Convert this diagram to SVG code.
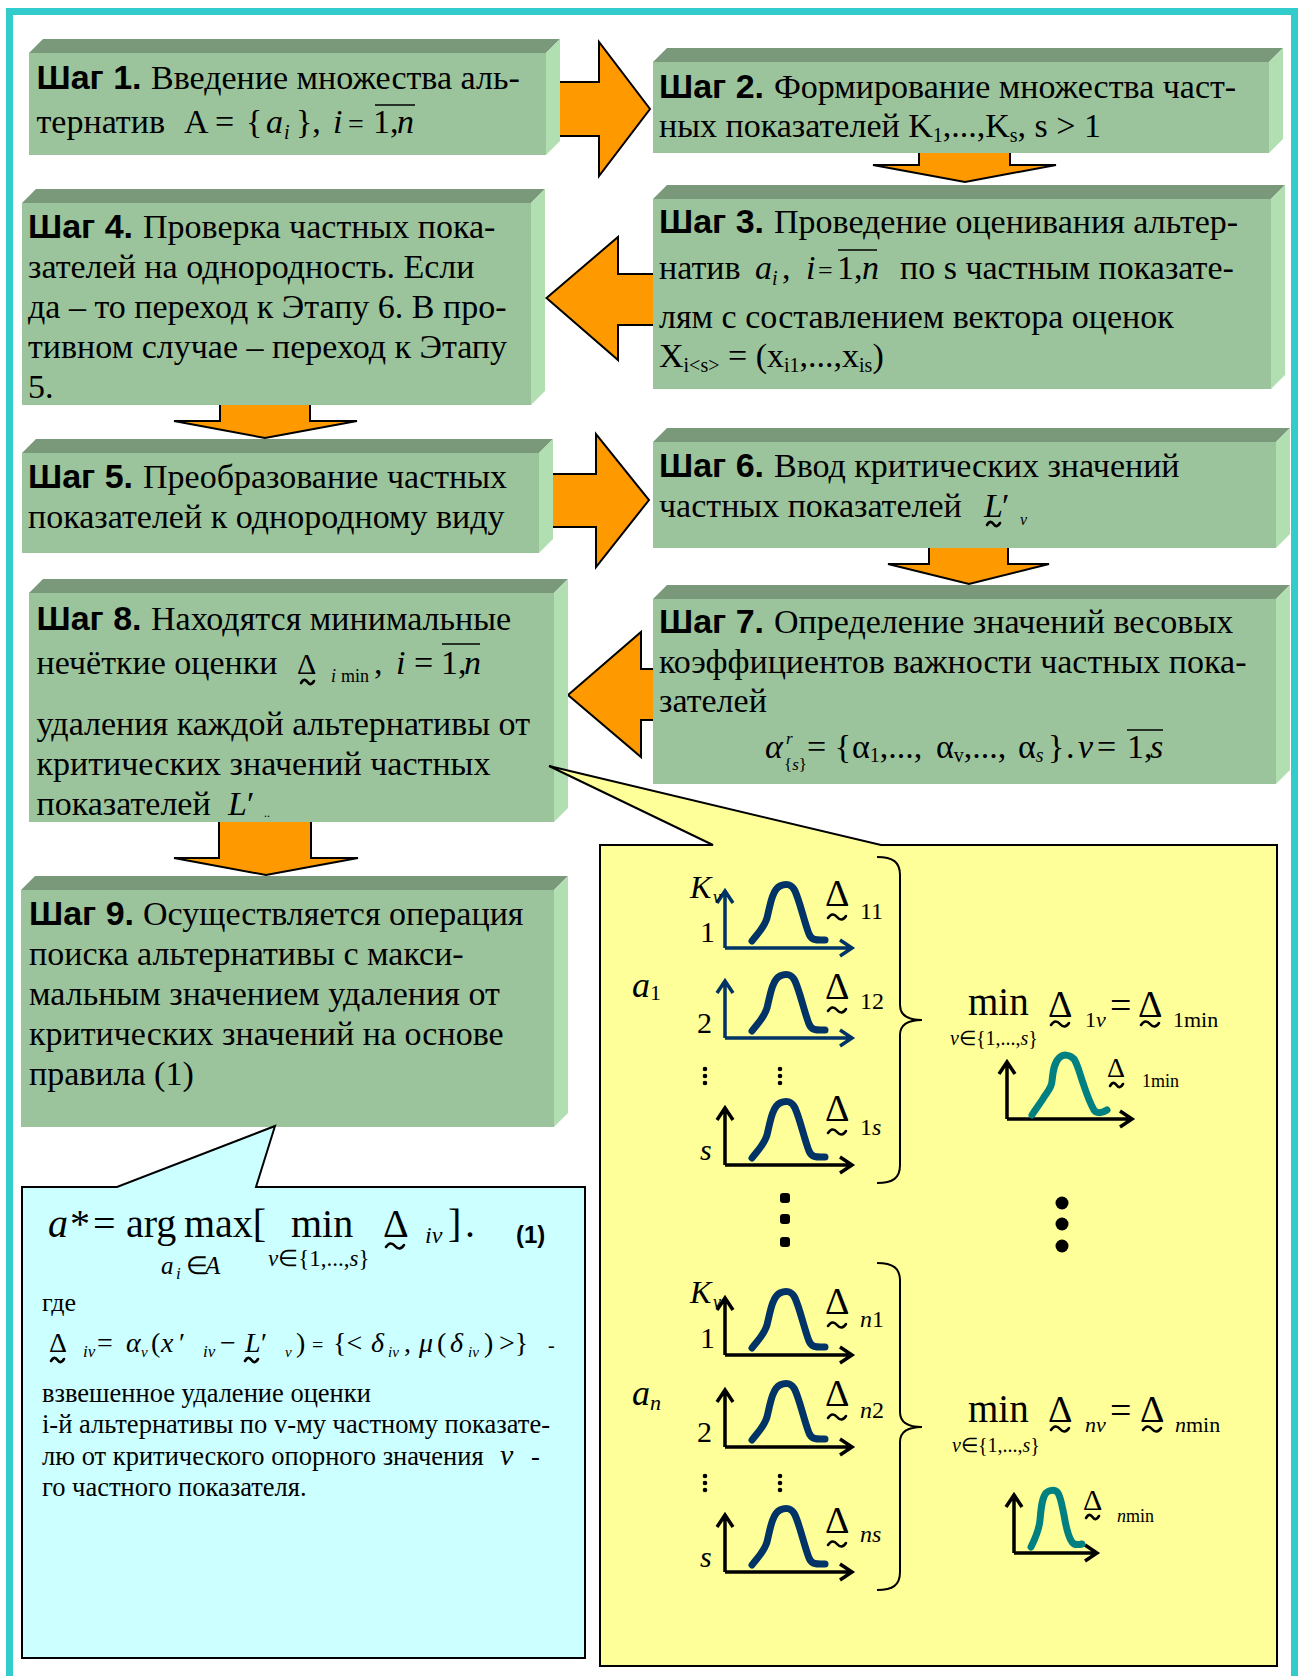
<svg xmlns="http://www.w3.org/2000/svg" xmlns:xlink="http://www.w3.org/1999/xlink" width="1298" height="1676" viewBox="0 0 1298 1676">
<style>
.s{font-family:"Liberation Serif","Times New Roman",serif;fill:#000}
.a{font-family:"Liberation Sans",Arial,sans-serif;font-weight:bold}
.i{font-style:italic}
.tw{fill:none;stroke:#000;stroke-width:2.6;stroke-linecap:round}
.front{fill:#9CC49C}
.top{fill:#7A987A}
.side{fill:#B2DFB2}
.arrow{fill:#FF9900;stroke:#000;stroke-width:2;stroke-linejoin:miter}
.ax{fill:none;stroke-width:3.5}
.bump{fill:none;stroke:#003366;stroke-width:7;stroke-linecap:round;stroke-linejoin:round}
.tbump{fill:none;stroke:#008080;stroke-width:7;stroke-linecap:round;stroke-linejoin:round}
.ol{stroke:#000;stroke-width:1.5}
</style>
<defs>
<path id="bump" d="M27,-7 C33,-15 39,-20 42,-30 C45,-42 47,-58 55,-62 C61,-65 67,-64 70,-57 C75,-46 79,-27 84,-14 C87,-7 92,-8 100,-8"/>
<path id="axes" d="M0,0 V-57 M-8,-45 L0,-57 L8,-45 M0,0 H127 M115,-8 L127,0 L115,8"/>
<path id="tilde" d="M0,1 C3,-3.5 6,-3.5 9,0 C12,3.5 15,3.5 18,-1"/>
<path id="tildes" d="M0,1 C2.2,-3 4.4,-3 6.5,0 C8.6,3 10.8,3 13,-1"/>
</defs>
<rect width="1298" height="1676" fill="#fff"/>
<rect x="9.5" y="11.5" width="1285" height="1700" fill="none" stroke="#33CCCC" stroke-width="7"/>

<g id="connectors">
<polygon class="arrow" points="546,82 599,82 599,42 650,109 599,176 599,136 546,136"/>
<polygon class="arrow" points="919,150 1010,150 1010,165 1056,165 965,182 873,165 919,165"/>
<polygon class="arrow" points="546.5,298 618,237 618,274 656,274 656,325 618,325 618,360"/>
<polygon class="arrow" points="220,400 310,400 310,421 357,421 265,438 174,421 220,421"/>
<polygon class="arrow" points="539,474 596,474 596,434 649,500 596,567 596,527 539,527"/>
<polygon class="arrow" points="929,545 1008,545 1008,564 1049,564 969,584 888,564 929,564"/>
<polygon class="arrow" points="568,695 641,632 641,669 656,669 656,720 641,720 641,757"/>
<polygon class="arrow" points="219,818 311,818 311,858 358,858 266,875 174,858 219,858"/>
</g>

<g id="step1">
<polygon class="top" points="29,53 43,39 560,39 546,53"/>
<polygon class="side" points="546,53 560,39 560,141 546,155"/>
<rect class="front" x="29" y="53" width="517" height="102"/>
<text class="s" font-size="34" y="89"><tspan x="36.5" class="a">Шаг 1.</tspan><tspan x="151">Введение множества аль-</tspan></text>
<text class="s" font-size="34" y="133"><tspan x="36.5">тернатив</tspan><tspan x="184">A</tspan><tspan x="215">=</tspan><tspan x="246">{</tspan><tspan x="266" class="i">a</tspan><tspan x="284" y="139" font-size="20" class="i">i</tspan><tspan x="296" y="133">},</tspan><tspan x="333" class="i">i</tspan><tspan x="348" font-size="28">=</tspan><tspan x="373">1,</tspan><tspan x="397" class="i">n</tspan></text>
<line class="ol" x1="375" y1="105" x2="415" y2="105"/>
</g>

<g id="step2">
<polygon class="top" points="653,62 667,48 1283,48 1269,62"/>
<polygon class="side" points="1269,62 1283,48 1283,139 1269,153"/>
<rect class="front" x="653" y="62" width="616" height="91"/>
<text class="s" font-size="34" y="98"><tspan x="659" class="a">Шаг 2.</tspan><tspan x="774">Формирование множества част-</tspan></text>
<text class="s" font-size="34" y="137"><tspan x="659">ных показателей K</tspan><tspan font-size="20" dy="5">1</tspan><tspan dy="-5">,...,K</tspan><tspan font-size="20" dy="5">s</tspan><tspan dy="-5">, s &gt; 1</tspan></text>
</g>

<g id="step3">
<polygon class="top" points="653,199 667,185 1285,185 1271,199"/>
<polygon class="side" points="1271,199 1285,185 1285,375 1271,389"/>
<rect class="front" x="653" y="199" width="618" height="190"/>
<text class="s" font-size="34" y="233"><tspan x="659" class="a">Шаг 3.</tspan><tspan x="774">Проведение оценивания альтер-</tspan></text>
<text class="s" font-size="34" y="279"><tspan x="659">натив</tspan><tspan x="755" class="i">a</tspan><tspan x="772" y="285" font-size="20" class="i">i</tspan><tspan x="782" y="279">,</tspan><tspan x="806" class="i">i</tspan><tspan x="818" font-size="26">=</tspan><tspan x="837">1,</tspan><tspan x="862" class="i">n</tspan><tspan x="900">по s частным показате-</tspan></text>
<line class="ol" x1="838" y1="250" x2="877" y2="250"/>
<text class="s" font-size="34" y="328"><tspan x="659">лям с составлением вектора оценок</tspan></text>
<text class="s" font-size="34" y="367"><tspan x="659">X</tspan><tspan font-size="20" dy="5">i&lt;s&gt;</tspan><tspan dy="-5"> = (x</tspan><tspan font-size="20" dy="5">i1</tspan><tspan dy="-5">,...,x</tspan><tspan font-size="20" dy="5">is</tspan><tspan dy="-5">)</tspan></text>
</g>

<g id="step4">
<polygon class="top" points="22,203 36,189 545,189 531,203"/>
<polygon class="side" points="531,203 545,189 545,391 531,405"/>
<rect class="front" x="22" y="203" width="509" height="202"/>
<text class="s" font-size="34" y="238"><tspan x="28" class="a">Шаг 4.</tspan><tspan x="143">Проверка частных пока-</tspan></text>
<text class="s" font-size="34" x="28" y="278">зателей на однородность. Если</text>
<text class="s" font-size="34" x="28" y="318">да – то переход к Этапу 6. В про-</text>
<text class="s" font-size="34" x="28" y="358">тивном случае – переход к Этапу</text>
<text class="s" font-size="34" x="28" y="398">5.</text>
</g>

<g id="step5">
<polygon class="top" points="22,453 36,439 553,439 539,453"/>
<polygon class="side" points="539,453 553,439 553,539 539,553"/>
<rect class="front" x="22" y="453" width="517" height="100"/>
<text class="s" font-size="34" y="488"><tspan x="28" class="a">Шаг 5.</tspan><tspan x="143">Преобразование частных</tspan></text>
<text class="s" font-size="34" x="28" y="528">показателей к однородному виду</text>
</g>

<g id="step6">
<polygon class="top" points="653,442 667,428 1290,428 1276,442"/>
<polygon class="side" points="1276,442 1290,428 1290,534 1276,548"/>
<rect class="front" x="653" y="442" width="623" height="106"/>
<text class="s" font-size="34" y="477"><tspan x="659" class="a">Шаг 6.</tspan><tspan x="774">Ввод критических значений</tspan></text>
<text class="s" font-size="34" y="517"><tspan x="659">частных показателей</tspan><tspan x="984" class="i">L</tspan><tspan x="1002">′</tspan><tspan x="1020" y="525" font-size="16" class="i">v</tspan></text>
<use class="tw" xlink:href="#tildes" x="987" y="524"/>
</g>

<g id="step7">
<polygon class="top" points="653,599 667,585 1290,585 1276,599"/>
<polygon class="side" points="1276,599 1290,585 1290,770 1276,784"/>
<rect class="front" x="653" y="599" width="623" height="185"/>
<text class="s" font-size="34" y="633"><tspan x="659" class="a">Шаг 7.</tspan><tspan x="774">Определение значений весовых</tspan></text>
<text class="s" font-size="34" x="659" y="673">коэффициентов важности частных пока-</text>
<text class="s" font-size="34" x="659" y="712">зателей</text>
<text class="s" font-size="34" y="758"><tspan x="765" class="i">α</tspan><tspan x="786" y="744" font-size="17" class="i">r</tspan><tspan x="784" y="770" font-size="17">{</tspan><tspan font-size="17" class="i">s</tspan><tspan font-size="17">}</tspan><tspan x="807" y="758">= {</tspan><tspan x="852">α</tspan><tspan font-size="20" dy="4">1</tspan><tspan dy="-4">,...,</tspan><tspan x="936">α</tspan><tspan font-size="20" dy="4">v</tspan><tspan dy="-4">,...,</tspan><tspan x="1018">α</tspan><tspan font-size="20" dy="4" class="i">s</tspan><tspan x="1048" dy="-4">}</tspan><tspan x="1066">.</tspan><tspan x="1078" class="i">v</tspan><tspan x="1097">=</tspan><tspan x="1127">1,</tspan><tspan x="1150" class="i">s</tspan></text>
<line class="ol" x1="1127" y1="730" x2="1163" y2="730"/>
</g>

<g id="step8">
<polygon class="top" points="29,593 43,579 568,579 554,593"/>
<polygon class="side" points="554,593 568,579 568,808 554,822"/>
<rect class="front" x="29" y="593" width="525" height="229"/>
<text class="s" font-size="34" y="630"><tspan x="36.5" class="a">Шаг 8.</tspan><tspan x="151">Находятся минимальные</tspan></text>
<text class="s" font-size="34" y="674"><tspan x="36.5">нечёткие оценки</tspan><tspan x="297" font-size="30">Δ</tspan><tspan x="331" y="682" font-size="18" class="i">i</tspan><tspan x="341" y="682" font-size="18">min</tspan><tspan x="374" y="674">,</tspan><tspan x="396" class="i">i</tspan><tspan x="414">=</tspan><tspan x="441">1,</tspan><tspan x="464" class="i">n</tspan></text>
<use class="tw" xlink:href="#tildes" x="301" y="682"/>
<line class="ol" x1="442" y1="644" x2="480" y2="644"/>
<text class="s" font-size="34" x="36.5" y="735">удаления каждой альтернативы от</text>
<text class="s" font-size="34" x="36.5" y="775">критических значений частных</text>
<text class="s" font-size="34" y="815"><tspan x="36.5">показателей</tspan><tspan x="228" class="i">L</tspan><tspan x="247">′</tspan><tspan x="264" y="817" font-size="12">..</tspan></text>
</g>

<g id="step9">
<polygon class="top" points="21,890 35,876 568,876 554,890"/>
<polygon class="side" points="554,890 568,876 568,1113 554,1127"/>
<rect class="front" x="21" y="890" width="533" height="237"/>
<text class="s" font-size="34" y="925"><tspan x="29" class="a">Шаг 9.</tspan><tspan x="143">Осуществляется операция</tspan></text>
<text class="s" font-size="34" x="29" y="965">поиска альтернативы с макси-</text>
<text class="s" font-size="34" x="29" y="1005">мальным значением удаления от</text>
<text class="s" font-size="34" x="29" y="1045">критических значений на основе</text>
<text class="s" font-size="34" x="29" y="1085">правила (1)</text>
</g>

<g id="callout-formula">
<path d="M22,1187 L117,1187 L275,1126 L256,1187 L585,1187 L585,1658 L22,1658 Z" fill="#CCFFFF" stroke="#000" stroke-width="2"/>
<text class="s" font-size="40" y="1237"><tspan x="48" class="i">a</tspan><tspan x="70">*</tspan><tspan x="93">=</tspan><tspan x="126">arg</tspan><tspan x="184">max[</tspan></text>
<text class="s" font-size="40" x="291" y="1237">min</text>
<text class="s" font-size="40" x="383" y="1237">Δ</text>
<text class="s i" font-size="24" x="425" y="1243">iv</text>
<text class="s" font-size="40" y="1237"><tspan x="448">]</tspan><tspan x="465">.</tspan></text>
<use class="tw" xlink:href="#tilde" x="386" y="1246"/>
<text class="s a" font-size="24" x="516" y="1243">(1)</text>
<text class="s" font-size="25" y="1274"><tspan x="161" class="i">a</tspan><tspan x="176" y="1279" font-size="17" class="i">i</tspan><tspan x="186" y="1274">∈</tspan><tspan x="205" class="i">A</tspan></text>
<text class="s" font-size="23" y="1266"><tspan x="268" class="i">v</tspan><tspan>∈{1,...,</tspan><tspan class="i">s</tspan><tspan>}</tspan></text>
<text class="s" font-size="26" x="42" y="1311">где</text>
<text class="s" font-size="28" y="1352"><tspan x="49">Δ</tspan><tspan x="83" y="1357" font-size="17" class="i">iv</tspan><tspan x="97" y="1352">=</tspan><tspan x="126" class="i">α</tspan><tspan x="141" y="1357" font-size="15" class="i">v</tspan><tspan x="151" y="1352">(</tspan><tspan x="161" class="i">x</tspan><tspan x="179">′</tspan><tspan x="203" y="1357" font-size="17" class="i">iv</tspan><tspan x="220" y="1352">−</tspan><tspan x="245" class="i">L</tspan><tspan x="261">′</tspan><tspan x="285" y="1357" font-size="15" class="i">v</tspan><tspan x="296" y="1352">)</tspan><tspan x="312" font-size="20">=</tspan><tspan x="333">{&lt;</tspan><tspan x="371" class="i">δ</tspan><tspan x="388" y="1357" font-size="15" class="i">iv</tspan><tspan x="404" y="1352">,</tspan><tspan x="419" class="i">μ</tspan><tspan x="437">(</tspan><tspan x="450" class="i">δ</tspan><tspan x="468" y="1357" font-size="15" class="i">iv</tspan><tspan x="484" y="1352">)</tspan><tspan x="499">&gt;}</tspan><tspan x="548" font-size="20">-</tspan></text>
<use class="tw" xlink:href="#tildes" x="51" y="1360"/>
<use class="tw" xlink:href="#tildes" x="245" y="1360"/>
<text class="s" font-size="26.5" x="42" y="1402">взвешенное удаление оценки</text>
<text class="s" font-size="26.5" x="42" y="1433">i-й альтернативы по v-му частному показате-</text>
<text class="s" font-size="26.5" y="1465"><tspan x="42">лю от критического опорного значения</tspan><tspan x="500" font-size="30" class="i">v</tspan><tspan x="531">-</tspan></text>
<text class="s" font-size="26.5" x="42" y="1496">го частного показателя.</text>
</g>

<g id="callout-graphs">
<path d="M600,845 L713,845 L549,766 L881,845 L1277,845 L1277,1666 L600,1666 Z" fill="#FFFF99" stroke="#000" stroke-width="2"/>
<g class="ax" stroke="#003366"><use xlink:href="#axes" transform="translate(725,948)"/><use xlink:href="#axes" transform="translate(725,1038)"/></g>
<g class="ax" stroke="#000"><use xlink:href="#axes" transform="translate(725,1165)"/><use xlink:href="#axes" transform="translate(725,1355)"/><use xlink:href="#axes" transform="translate(725,1447)"/><use xlink:href="#axes" transform="translate(725,1572)"/></g>
<g class="bump"><use xlink:href="#bump" transform="translate(725,948)"/><use xlink:href="#bump" transform="translate(725,1038)"/><use xlink:href="#bump" transform="translate(725,1165)"/><use xlink:href="#bump" transform="translate(725,1355)"/><use xlink:href="#bump" transform="translate(725,1447)"/><use xlink:href="#bump" transform="translate(725,1572)"/></g>
<g class="s">
<text font-size="32" y="898"><tspan x="690" class="i">K</tspan><tspan x="713" y="903" font-size="18" class="i">v</tspan></text>
<text font-size="30" x="700" y="942">1</text>
<text font-size="30" x="697" y="1033">2</text>
<text font-size="30" x="700" y="1160" class="i">s</text>
<text font-size="36" y="997"><tspan x="632" class="i">a</tspan><tspan x="650" y="1000" font-size="22">1</tspan></text>
<text font-size="32" y="1303"><tspan x="690" class="i">K</tspan><tspan x="713" y="1308" font-size="18" class="i">v</tspan></text>
<text font-size="30" x="700" y="1348">1</text>
<text font-size="30" x="697" y="1442">2</text>
<text font-size="30" x="700" y="1567" class="i">s</text>
<text font-size="36" y="1405"><tspan x="632" class="i">a</tspan><tspan x="650" y="1410" font-size="22" class="i">n</tspan></text>
<text font-size="38" x="825" y="906">Δ<tspan font-size="24" x="860" y="919">11</tspan></text>
<text font-size="38" x="825" y="999">Δ<tspan font-size="24" x="860" y="1009">12</tspan></text>
<text font-size="38" x="825" y="1121">Δ<tspan font-size="24" x="860" y="1135">1</tspan><tspan font-size="24" class="i">s</tspan></text>
<text font-size="38" x="825" y="1314">Δ<tspan font-size="24" x="860" y="1327" class="i">n</tspan><tspan font-size="24">1</tspan></text>
<text font-size="38" x="825" y="1406">Δ<tspan font-size="24" x="860" y="1418" class="i">n</tspan><tspan font-size="24">2</tspan></text>
<text font-size="38" x="825" y="1533">Δ<tspan font-size="24" x="860" y="1542" class="i">ns</tspan></text>
</g>
<g class="tw">
<use xlink:href="#tilde" x="828" y="917"/><use xlink:href="#tilde" x="828" y="1010"/><use xlink:href="#tilde" x="828" y="1132"/>
<use xlink:href="#tilde" x="828" y="1325"/><use xlink:href="#tilde" x="828" y="1417"/><use xlink:href="#tilde" x="828" y="1544"/>
<use xlink:href="#tilde" x="1051" y="1024"/><use xlink:href="#tilde" x="1141" y="1024"/><use xlink:href="#tildes" x="1110" y="1085"/>
<use xlink:href="#tilde" x="1051" y="1429"/><use xlink:href="#tilde" x="1143" y="1429"/><use xlink:href="#tildes" x="1086" y="1517"/>
</g>
<g fill="#000">
<rect x="780" y="1193" width="10" height="10" rx="3"/><rect x="780" y="1214" width="10" height="10" rx="3"/><rect x="780" y="1237" width="10" height="10" rx="3"/>
<circle cx="1062" cy="1203" r="6.5"/><circle cx="1062" cy="1224" r="6.5"/><circle cx="1062" cy="1246" r="6.5"/>
<circle cx="705" cy="1069" r="2.3"/><circle cx="705" cy="1076" r="2.3"/><circle cx="705" cy="1083" r="2.3"/>
<circle cx="780" cy="1069" r="2.3"/><circle cx="780" cy="1076" r="2.3"/><circle cx="780" cy="1083" r="2.3"/>
<circle cx="705" cy="1476" r="2.3"/><circle cx="705" cy="1483" r="2.3"/><circle cx="705" cy="1490" r="2.3"/>
<circle cx="780" cy="1476" r="2.3"/><circle cx="780" cy="1483" r="2.3"/><circle cx="780" cy="1490" r="2.3"/>
</g>
<path d="M877,857 C893,857 900,862 900,875 L900,1005 C900,1015 908,1020 922,1020 C908,1020 900,1025 900,1035 L900,1165 C900,1178 893,1183 877,1183" fill="none" stroke="#000" stroke-width="2"/>
<path d="M877,1263 C893,1263 900,1268 900,1281 L900,1412 C900,1422 908,1427 922,1427 C908,1427 900,1432 900,1442 L900,1572 C900,1585 893,1590 877,1590" fill="none" stroke="#000" stroke-width="2"/>
<g class="s">
<text font-size="39" x="968" y="1015">min</text>
<text font-size="20" y="1045"><tspan x="950" class="i">v</tspan><tspan>∈{1,...,</tspan><tspan class="i">s</tspan><tspan>}</tspan></text>
<text font-size="38" y="1017"><tspan x="1048">Δ</tspan><tspan x="1085" y="1027" font-size="22">1</tspan><tspan font-size="22" class="i">v</tspan><tspan x="1110" y="1018">=</tspan><tspan x="1138" y="1017">Δ</tspan><tspan x="1173" y="1027" font-size="22">1min</tspan></text>
<text font-size="28" x="1107" y="1077">Δ<tspan font-size="18" x="1142" y="1087">1min</tspan></text>
<text font-size="39" x="968" y="1422">min</text>
<text font-size="20" y="1452"><tspan x="952" class="i">v</tspan><tspan>∈{1,...,</tspan><tspan class="i">s</tspan><tspan>}</tspan></text>
<text font-size="38" y="1422"><tspan x="1048">Δ</tspan><tspan x="1085" y="1432" font-size="22" class="i">nv</tspan><tspan x="1110" y="1423">=</tspan><tspan x="1140" y="1422">Δ</tspan><tspan x="1175" y="1432" font-size="22" class="i">n</tspan><tspan font-size="22">min</tspan></text>
<text font-size="30" x="1083" y="1510">Δ<tspan font-size="18" x="1117" y="1522" class="i">n</tspan><tspan font-size="18">min</tspan></text>
</g>
<g class="ax" stroke="#000">
<path d="M1007,1119 V1062 M999,1074 L1007,1062 L1015,1074 M1007,1119 H1132 M1120,1111 L1132,1119 L1120,1127"/>
<path d="M1014,1553 V1495 M1006,1507 L1014,1495 L1022,1507 M1014,1553 H1097 M1085,1545 L1097,1553 L1085,1561"/>
</g>
<path class="tbump" d="M1032,1115 C1037,1107 1042,1101 1044,1097 C1048,1091 1052,1087 1052,1081 C1053,1071 1054,1063 1059,1058 C1063,1054 1069,1054 1074,1059 C1078,1065 1080,1075 1083,1083 C1087,1095 1091,1105 1094,1110 C1096,1113 1101,1114 1107,1110"/>
<path class="tbump" d="M1031,1547 C1035,1539 1039,1531 1040,1520 C1041,1508 1042,1498 1046,1493 C1049,1490 1055,1489 1058,1493 C1061,1498 1062,1506 1064,1515 C1066,1527 1069,1538 1072,1542 C1074,1545 1078,1545 1082,1544"/>
</g>
</svg>
